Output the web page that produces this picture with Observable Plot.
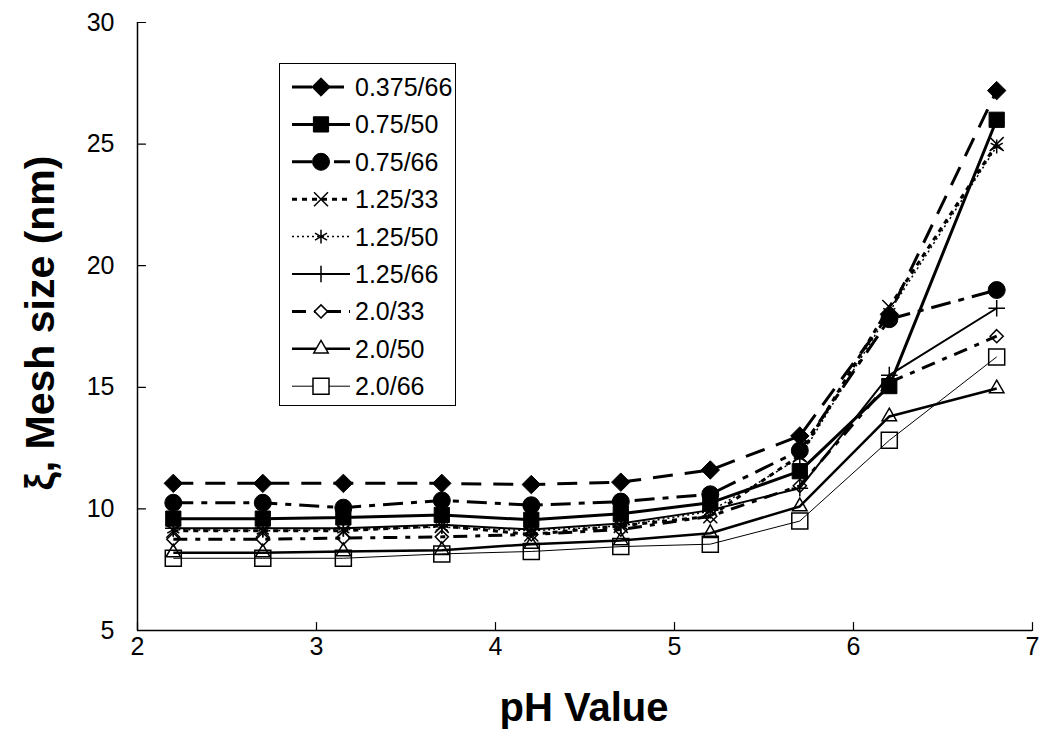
<!DOCTYPE html>
<html><head><meta charset="utf-8">
<script src="https://cdn.jsdelivr.net/npm/d3@7"></script>
<script src="https://cdn.jsdelivr.net/npm/@observablehq/plot@0.6"></script>
<style>
body{margin:0;background:#fff;font-family:Arial,"Liberation Sans",sans-serif;}
#wrap{position:relative;width:1044px;height:753px;overflow:hidden;}
.lbl{position:absolute;font-weight:bold;color:#000;white-space:nowrap;font-family:Arial,"Liberation Sans",sans-serif;}
#legend{position:absolute;left:279px;top:63px;}
</style></head><body><div id="wrap"></div>
<script>
// ---- data ----
const phValues = [2.2, 2.7, 3.15, 3.7, 4.2, 4.7, 5.2, 5.7, 6.2, 6.8];
const seriesNames = ["0.375/66","0.75/50","0.75/66","1.25/33","1.25/50","1.25/66","2.0/33","2.0/50","2.0/66"];
const s0375_66 = [11.05, 11.05, 11.05, 11.05, 11.0, 11.1, 11.6, 13.0, 18.0, 27.2];
const s075_50  = [9.6, 9.6, 9.65, 9.75, 9.55, 9.8, 10.25, 11.55, 15.05, 26.0];
const s075_66  = [10.25, 10.25, 10.05, 10.35, 10.15, 10.3, 10.6, 12.4, 17.8, 19.0];
const s125_33  = [9.1, 9.1, 9.1, 9.3, 8.95, 9.3, 9.7, 12.2, 18.3, 25.0];
const s125_50  = [9.15, 9.1, 9.15, 9.25, 9.1, 9.3, 9.9, 12.1, 18.1, 24.9];
const s125_66  = [9.2, 9.2, 9.2, 9.35, 9.15, 9.4, 9.95, 10.85, 15.5, 18.25];
const s20_33   = [8.75, 8.75, 8.8, 8.85, 8.95, 9.15, 9.7, 10.95, 15.2, 17.1];
const s20_50   = [8.2, 8.2, 8.25, 8.3, 8.55, 8.7, 9.0, 10.1, 13.8, 14.95];
const s20_66   = [7.97, 7.97, 7.97, 8.15, 8.25, 8.45, 8.55, 9.5, 12.82, 16.25];
const seriesValues = [s0375_66, s075_50, s075_66, s125_33, s125_50, s125_66, s20_33, s20_50, s20_66];
const xTicks = [2, 3, 4, 5, 6, 7];
const yTicks = [5, 10, 15, 20, 25, 30];
const xTitle = "pH Value";
const yTitle = "ξ, Mesh size (nm)";

// ---- styles ----
const styles = {
  "0.375/66": {dash: "20,12", w: 3,   symbol: "diamond2", r: 8.3, filled: true,  mw: 1},
  "0.75/50":  {dash: null,    w: 3,   symbol: "square",   r: 8.6, filled: true,  mw: 1},
  "0.75/66":  {dash: "20,8,6,8", w: 3, symbol: "circle",  r: 8.5, filled: true,  mw: 1},
  "1.25/33":  {dash: "5,5",   w: 3,   symbol: "times",    r: 6.4, filled: false, mw: 1.5},
  "1.25/50":  {dash: "2,3",   w: 1.5, symbol: "asterisk", r: 6.6, filled: false, mw: 1.5},
  "1.25/66":  {dash: null,    w: 2,   symbol: "plus",     r: 5.4, filled: false, mw: 1.5},
  "2.0/33":   {dash: "14,8,5,8", w: 3, symbol: "diamond2", r: 5.9, filled: false, mw: 1.5},
  "2.0/50":   {dash: null,    w: 2.5, symbol: "triangle2", r: 6.9, filled: false, mw: 1.5},
  "2.0/66":   {dash: null,    w: 1,   symbol: "square2",  r: 10.2, filled: false, mw: 1.5}
};

const rows = [];
seriesNames.forEach((name, i) => seriesValues[i].forEach((v, j) => rows.push({series: name, ph: phValues[j], size: v})));

const marks = [];
seriesNames.forEach(name => {
  const st = styles[name];
  const d = rows.filter(r => r.series === name);
  marks.push(Plot.line(d, {x: "ph", y: "size", stroke: "black", strokeWidth: st.w, strokeDasharray: st.dash, strokeLinejoin: "miter", strokeLinecap: "butt"}));
});
seriesNames.forEach(name => {
  const st = styles[name];
  const d = rows.filter(r => r.series === name);
  marks.push(Plot.dot(d, {x: "ph", y: "size", symbol: st.symbol, r: st.r, fill: st.filled ? "black" : "none", stroke: "black", strokeWidth: st.mw}));
});

const tickShape = {draw(context, l) { context.moveTo(0, 0); context.lineTo(0, -l); }};

const chart = Plot.plot({
  width: 1044, height: 753,
  marginLeft: 137, marginRight: 12, marginTop: 22, marginBottom: 123,
  x: {domain: [2, 7]},
  y: {domain: [5, 30]},
  style: {fontFamily: "Arial, 'Liberation Sans', sans-serif", fontSize: "25px", color: "black", background: "white", overflow: "visible"},
  marks: [
    Plot.axisX(xTicks, {tickSize: 0, tickPadding: 7, label: null, fontSize: 25, tickFormat: d => String(d)}),
    Plot.axisY(yTicks, {tickSize: 0, tickPadding: 23, label: null, fontSize: 25, tickFormat: d => String(d)}),
    Plot.vector(yTicks, {x: 2, y: d => d, length: 8, rotate: 90, anchor: "start", shape: tickShape, stroke: "black", strokeWidth: 1.2}),
    Plot.vector(xTicks, {x: d => d, y: 5, length: 8, rotate: 0, anchor: "start", shape: tickShape, stroke: "black", strokeWidth: 1.2}),
    ...marks,
    Plot.ruleX([2], {stroke: "black", strokeWidth: 1.5}),
    Plot.ruleY([5], {stroke: "black", strokeWidth: 1.5})
  ]
});
const wrap = document.getElementById("wrap");
wrap.appendChild(chart);

// axis titles
const xl = document.createElement("div");
xl.className = "lbl"; xl.textContent = xTitle;
xl.style.fontSize = "40px"; xl.style.left = "584px"; xl.style.top = "707px";
xl.style.transform = "translate(-50%,-50%)";
wrap.appendChild(xl);
const yl = document.createElement("div");
yl.className = "lbl"; yl.textContent = yTitle;
yl.style.fontSize = "41px"; yl.style.left = "40px"; yl.style.top = "323px";
yl.style.transform = "translate(-50%,-50%) rotate(-90deg)";
wrap.appendChild(yl);

// legend
const symMap = {diamond2: d3.symbolDiamond2, square: d3.symbolSquare, circle: d3.symbolCircle, times: d3.symbolTimes,
  asterisk: d3.symbolAsterisk, plus: d3.symbolPlus, triangle2: d3.symbolTriangle2, square2: d3.symbolSquare2};
const lw = 177, lh = 343;
const lg = d3.select(wrap).append("svg").attr("id", "legend").attr("width", lw).attr("height", lh);
lg.append("rect").attr("x", 0.5).attr("y", 0.5).attr("width", lw - 1).attr("height", lh - 1).attr("fill", "white").attr("stroke", "black");
seriesNames.forEach((name, i) => {
  const st = styles[name];
  const cy = 24 + i * 37.4;
  const g = lg.append("g");
  g.append("line").attr("x1", 13).attr("x2", 71).attr("y1", cy).attr("y2", cy)
    .attr("stroke", "black").attr("stroke-width", st.w).attr("stroke-dasharray", st.dash);
  g.append("path").attr("transform", `translate(42,${cy})`)
    .attr("d", d3.symbol(symMap[st.symbol], Math.PI * st.r * st.r)())
    .attr("fill", st.filled ? "black" : "white").attr("stroke", "black").attr("stroke-width", st.mw);
  g.append("text").attr("x", 76).attr("y", cy).attr("dy", "0.36em").attr("font-size", 25)
    .attr("font-family", "Arial, 'Liberation Sans', sans-serif").text(name);
});
</script>
</body></html>
